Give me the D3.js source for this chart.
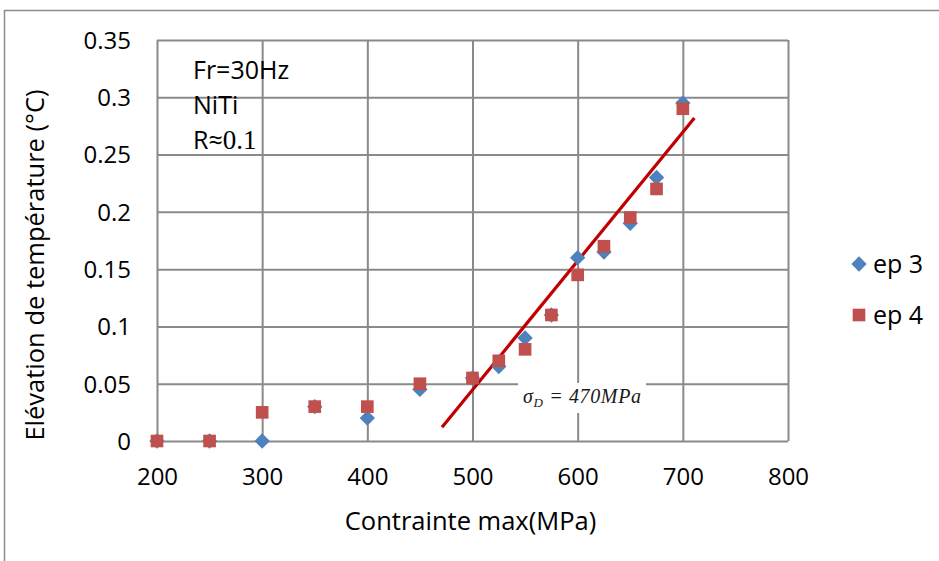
<!DOCTYPE html>
<html>
<head>
<meta charset="utf-8">
<script src="https://cdn.jsdelivr.net/npm/d3@7"></script>
<style>
body { margin: 0; background: #fff; }
svg { font-family: "Open Sans", "Noto Sans", sans-serif; }
</style>
</head>
<body>
<svg id="chart" width="939" height="561"></svg>
<script>
var stress = [200, 250, 300, 350, 400, 450, 500, 525, 550, 575, 600, 625, 650, 675, 700];
var ep3 = [0, 0, 0, 0.03, 0.02, 0.045, 0.055, 0.065, 0.09, 0.11, 0.16, 0.165, 0.19, 0.23, 0.295];
var ep4 = [0, 0, 0.025, 0.03, 0.03, 0.05, 0.055, 0.07, 0.08, 0.11, 0.145, 0.17, 0.195, 0.22, 0.29];
var trendX = [471, 711];
var trendY = [0.012, 0.282];
var xTicks = [200, 300, 400, 500, 600, 700, 800];
var yTicks = [0, 0.05, 0.1, 0.15, 0.2, 0.25, 0.3, 0.35];

var svg = d3.select("#chart");
var pLeft = 157, pRight = 788, pTop = 40, pBottom = 441;

// outer frame
svg.append("rect")
	.attr("x", 4.5).attr("y", 10.5)
	.attr("width", 960).attr("height", 600)
	.attr("fill", "none")
	.attr("stroke", "#8c8c8c")
	.attr("stroke-width", 1.5);

var x = d3.scaleLinear().domain([200, 800]).range([pLeft, pRight]);
var y = d3.scaleLinear().domain([0, 0.35]).range([pBottom, pTop]);

var gx = svg.append("g")
	.attr("transform", "translate(0," + pBottom + ")")
	.call(d3.axisBottom(x).tickValues(xTicks).tickSize(-(pBottom - pTop)).tickPadding(27));
var gy = svg.append("g")
	.attr("transform", "translate(" + pLeft + ",0)")
	.call(d3.axisLeft(y).tickValues(yTicks).tickSize(-(pRight - pLeft)).tickPadding(26)
		.tickFormat(function(d) { return String(+d.toFixed(2)); }));

[gx, gy].forEach(function(g) {
	g.select(".domain").remove();
	g.selectAll("line").attr("stroke", "#8a8a8a").attr("stroke-width", 2);
	g.selectAll("text").attr("fill", "#000").style("font-size", "24px")
		.style("font-family", "'Open Sans', sans-serif");
});
gy.selectAll("text").attr("dy", "0.35em");

// annotation text top-left
var note = svg.append("g").style("font-size", "25px");
note.append("text").attr("x", 193).attr("y", 79).text("Fr=30Hz");
note.append("text").attr("x", 193).attr("y", 114).text("NiTi");
var r = note.append("text").attr("x", 193).attr("y", 149);
r.append("tspan").text("R≈");
r.append("tspan").style("font-family", "'Liberation Serif', serif").style("font-size", "27px").text("0.1");

// trend line
var trend = trendX.map(function(v, i) { return [v, trendY[i]]; });
svg.append("path")
	.datum(trend)
	.attr("d", d3.line().x(function(d) { return x(d[0]); }).y(function(d) { return y(d[1]); }))
	.attr("stroke", "#c00000")
	.attr("stroke-width", 3.2)
	.attr("fill", "none");

// markers
var diamond = d3.symbol().type(d3.symbolDiamond2).size(150);
var square = d3.symbol().type(d3.symbolSquare).size(160);

svg.append("g").selectAll("path")
	.data(stress.map(function(s, i) { return [s, ep3[i]]; }))
	.enter().append("path")
	.attr("d", diamond)
	.attr("transform", function(d) { return "translate(" + x(d[0]) + "," + y(d[1]) + ")"; })
	.attr("fill", "#4f81bd");

svg.append("g").selectAll("path")
	.data(stress.map(function(s, i) { return [s, ep4[i]]; }))
	.enter().append("path")
	.attr("d", square)
	.attr("transform", function(d) { return "translate(" + x(d[0]) + "," + y(d[1]) + ")"; })
	.attr("fill", "#c0504d");

// sigma_D label box
var lbl = svg.append("g");
lbl.append("rect")
	.attr("x", 518).attr("y", 383).attr("width", 128).attr("height", 30)
	.attr("fill", "#fff");
var lt = lbl.append("text")
	.attr("x", 518 + 64).attr("y", 403)
	.attr("text-anchor", "middle")
	.attr("textLength", 118)
	.style("font-family", "'Liberation Serif', serif")
	.style("font-style", "italic")
	.style("font-size", "20px")
	.attr("fill", "#1a1a1a");
lt.append("tspan").text("σ");
lt.append("tspan").attr("dy", 4).style("font-size", "13px").text("D");
lt.append("tspan").attr("dy", -4).text(" = 470MPa");

// axis titles
svg.append("text")
	.attr("x", (pLeft + pRight) / 2 - 2).attr("y", 530)
	.attr("text-anchor", "middle")
	.style("font-size", "25.5px")
	.text("Contrainte max(MPa)");
svg.append("text")
	.attr("transform", "translate(44,265) rotate(-90)")
	.attr("text-anchor", "middle")
	.style("font-size", "25.5px")
	.text("Elévation de température (°C)");

// legend
var legend = svg.append("g").style("font-size", "25px");
legend.append("path").attr("d", diamond).attr("transform", "translate(859,264)").attr("fill", "#4f81bd");
legend.append("text").attr("x", 873).attr("y", 264).attr("dy", "0.35em").text("ep 3");
legend.append("path").attr("d", square).attr("transform", "translate(859,315)").attr("fill", "#c0504d");
legend.append("text").attr("x", 873).attr("y", 315).attr("dy", "0.35em").text("ep 4");
</script>
</body>
</html>
